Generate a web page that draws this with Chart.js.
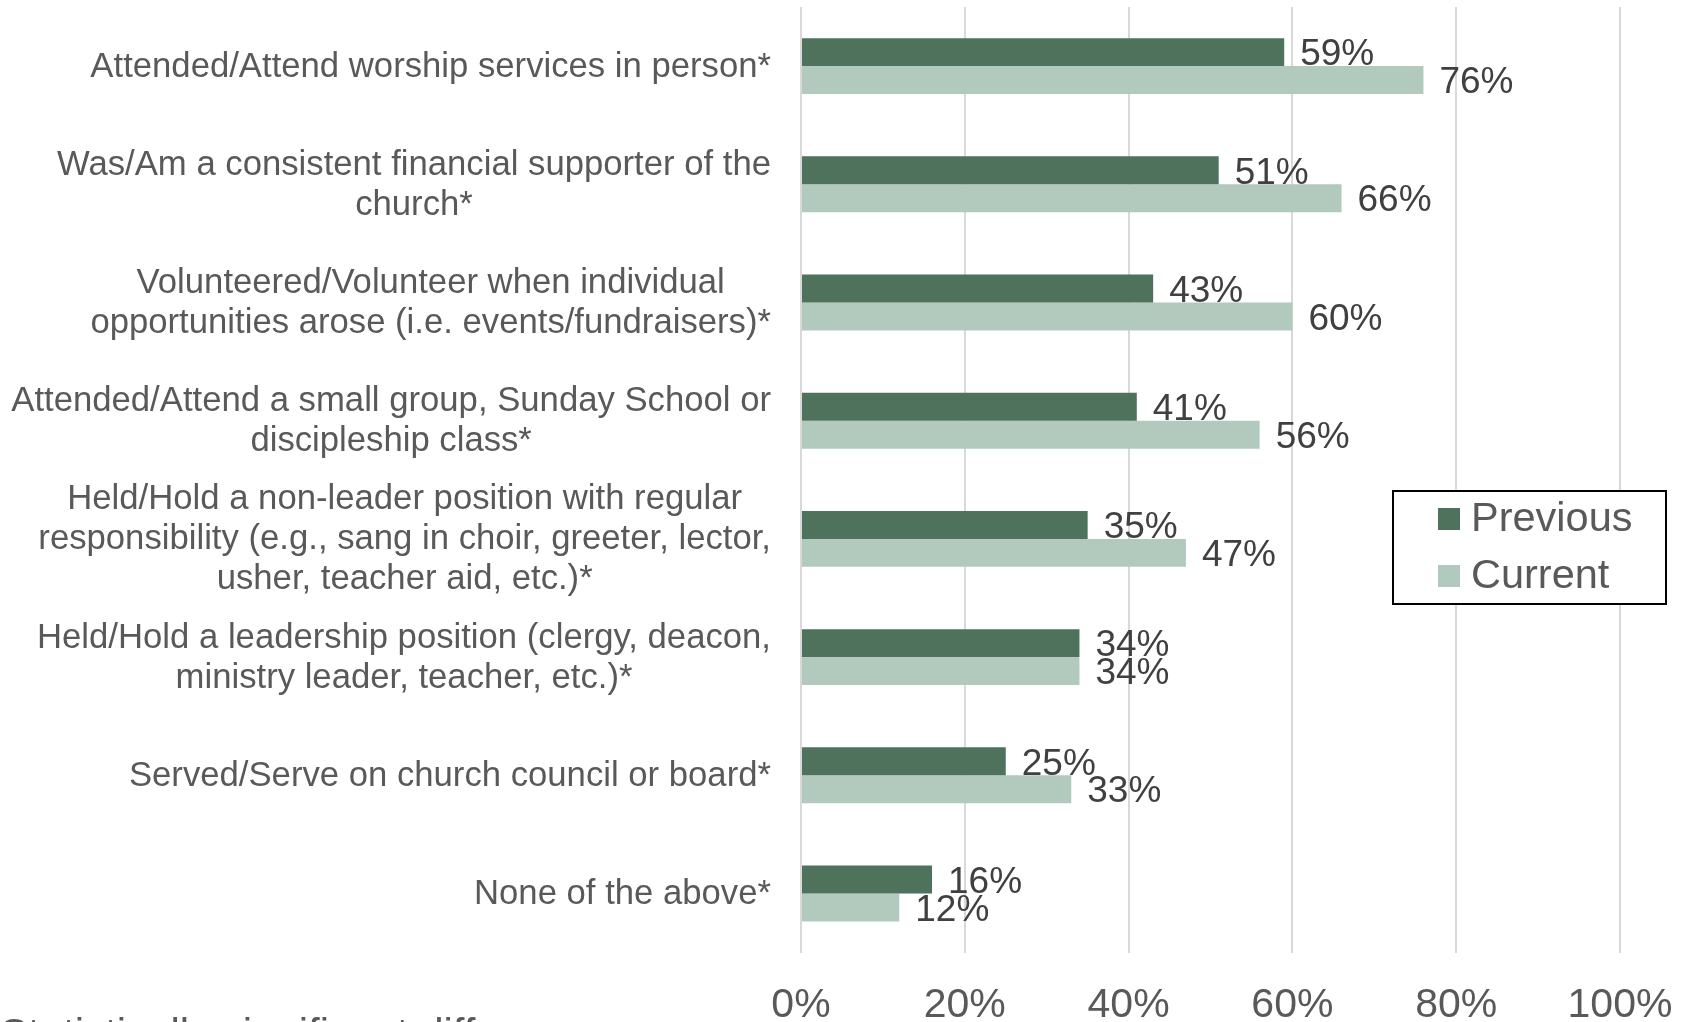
<!DOCTYPE html>
<html>
<head>
<meta charset="utf-8">
<script src="https://cdn.jsdelivr.net/npm/chart.js@4.4.1/dist/chart.umd.min.js"></script>
<style>
  html, body { margin: 0; padding: 0; background: #ffffff; overflow: hidden; }
  #wrap { position: relative; width: 1688px; height: 1022px; }
  canvas { display: block; }
</style>
</head>
<body>
<div id="wrap"><canvas id="c" width="1688" height="1022"></canvas></div>
<script>
const categories = [
  ["Attended/Attend worship services in person*"],
  ["Was/Am a consistent financial supporter of the", "church*"],
  ["Volunteered/Volunteer when individual", "opportunities arose (i.e. events/fundraisers)*"],
  ["Attended/Attend a small group, Sunday School or", "discipleship class*"],
  ["Held/Hold a non-leader position with regular", "responsibility (e.g., sang in choir, greeter, lector,", "usher, teacher aid, etc.)*"],
  ["Held/Hold a leadership position (clergy, deacon,", "ministry leader, teacher, etc.)*"],
  ["Served/Serve on church council or board*"],
  ["None of the above*"]
];
const previousValues = [59, 51, 43, 41, 35, 34, 25, 16];
const currentValues  = [76, 66, 60, 56, 47, 34, 33, 12];
const seriesNames = ["Previous", "Current"];
const xTicks = [0, 20, 40, 60, 80, 100];
const footnote = "Statistically significant difference";

const FONT = "'Liberation Sans', Arial, sans-serif";
const COL_PREV = "#4e725c";
const COL_CURR = "#b1cabd";

const yLabelPlugin = {
  id: "yLabels",
  afterDraw(chart) {
    const ctx = chart.ctx;
    const ys = chart.scales.y;
    ctx.save();
    ctx.font = "34.7px " + FONT;
    ctx.fillStyle = "#595959";
    ctx.textAlign = "center";
    ctx.textBaseline = "middle";
    const right = 771;
    const lh = 40;
    categories.forEach((lines, i) => {
      const yc = ys.getPixelForValue(i) + 1;
      let w = 0;
      lines.forEach(l => { w = Math.max(w, ctx.measureText(l).width); });
      const cx = right - w / 2;
      const y0 = yc - (lines.length - 1) * lh / 2;
      lines.forEach((l, k) => ctx.fillText(l, cx, y0 + k * lh));
    });
    ctx.restore();
  }
};

const dataLabelPlugin = {
  id: "dataLabels",
  afterDatasetsDraw(chart) {
    const ctx = chart.ctx;
    ctx.save();
    ctx.font = "37px " + FONT;
    ctx.fillStyle = "#404040";
    ctx.textAlign = "left";
    ctx.textBaseline = "middle";
    chart.data.datasets.forEach((ds, di) => {
      const meta = chart.getDatasetMeta(di);
      meta.data.forEach((bar, i) => {
        ctx.fillText(ds.data[i] + "%", bar.x + 16, bar.y + 3);
      });
    });
    ctx.restore();
  }
};

const legendPlugin = {
  id: "boxLegend",
  afterDraw(chart) {
    const ctx = chart.ctx;
    ctx.save();
    const x = 1393, y = 491, w = 273, h = 113;
    ctx.fillStyle = "#ffffff";
    ctx.fillRect(x, y, w, h);
    ctx.strokeStyle = "#000000";
    ctx.lineWidth = 2;
    ctx.strokeRect(x, y, w, h);
    ctx.font = "41.5px " + FONT;
    ctx.textAlign = "left";
    ctx.textBaseline = "middle";
    const colors = [COL_PREV, COL_CURR];
    const rows = [519, 576];
    seriesNames.forEach((n, i) => {
      ctx.fillStyle = colors[i];
      ctx.fillRect(1438, rows[i] - 11, 22, 22);
      ctx.fillStyle = "#595959";
      ctx.fillText(n, 1471, rows[i] + 1);
    });
    // footnote (cut off by the bottom edge, as in the source)
    ctx.font = "42px " + FONT;
    ctx.fillStyle = "#595959";
    ctx.textBaseline = "alphabetic";
    ctx.fillText(footnote, 0, 1048);
    ctx.restore();
  }
};

new Chart(document.getElementById("c"), {
  type: "bar",
  data: {
    labels: categories,
    datasets: [
      { label: seriesNames[0], data: previousValues, backgroundColor: COL_PREV, borderWidth: 0 },
      { label: seriesNames[1], data: currentValues, backgroundColor: COL_CURR, borderWidth: 0 }
    ]
  },
  options: {
    indexAxis: "y",
    responsive: false,
    animation: false,
    events: [],
    layout: { padding: { left: 0, right: 68, top: 7, bottom: 0 } },
    datasets: { bar: { barPercentage: 1.0, categoryPercentage: 0.473 } },
    plugins: { legend: { display: false }, tooltip: { enabled: false } },
    scales: {
      x: {
        min: 0, max: 100,
        afterBuildTicks(scale) { scale.ticks = xTicks.map(v => ({ value: v })); },
        afterFit(scale) {
          scale.height = 69.4;
          scale.paddingLeft = 0;
          scale.paddingRight = 0;
        },
        ticks: {
          callback: v => v + "%",
          color: "#595959",
          font: { family: FONT, size: 41 },
          padding: 28,
          maxRotation: 0,
          autoSkip: false
        },
        grid: { color: "#d9d9d9", lineWidth: 2, drawTicks: false },
        border: { display: false }
      },
      y: {
        ticks: { display: false },
        afterFit(scale) { scale.width = 801; },
        grid: { display: false },
        border: { display: false }
      }
    }
  },
  plugins: [yLabelPlugin, dataLabelPlugin, legendPlugin]
});
</script>
</body>
</html>
